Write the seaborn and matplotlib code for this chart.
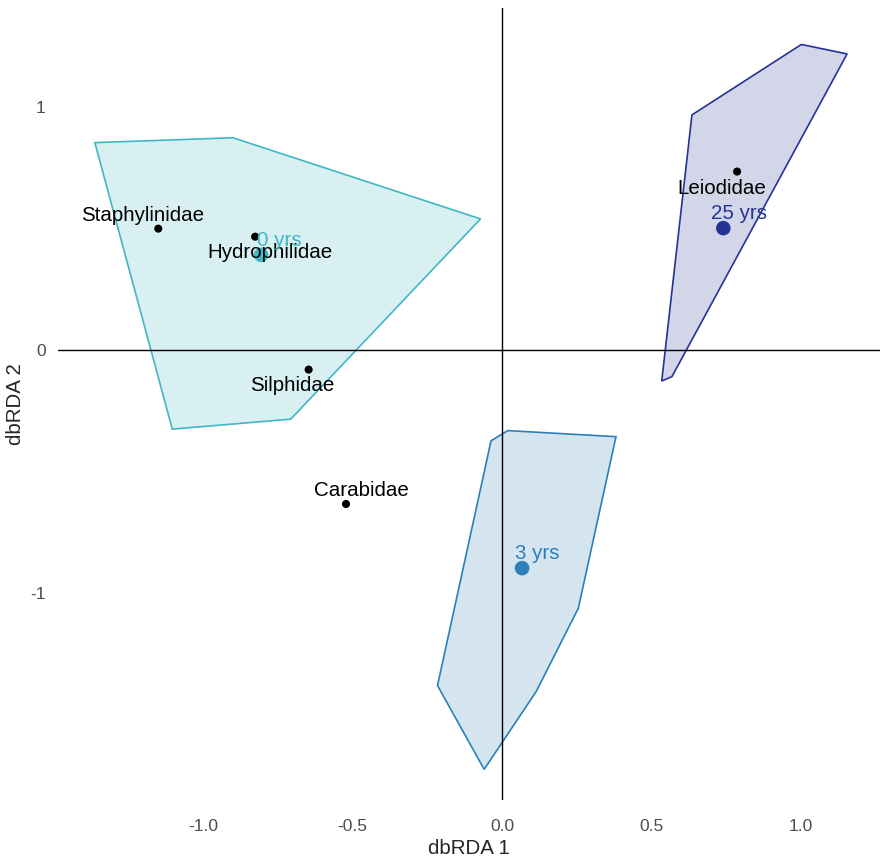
import numpy as np
import pandas as pd
import seaborn as sns
import matplotlib.pyplot as plt

# hull outlines per site age (dbRDA 1, dbRDA 2)
hull_0_x = [-1.362, -0.900, -0.072, -0.707, -1.103]
hull_0_y = [0.853, 0.873, 0.539, -0.285, -0.326]
hull_3_x = [-0.037, 0.019, 0.381, 0.255, 0.114, -0.060, -0.216]
hull_3_y = [-0.374, -0.332, -0.357, -1.063, -1.406, -1.726, -1.381]
hull_25_x = [0.635, 1.001, 1.154, 0.568, 0.534]
hull_25_y = [0.967, 1.257, 1.218, -0.110, -0.128]

groups = ["0 yrs", "3 yrs", "25 yrs"]
group_cols = ["#41b6c4", "#2c7fb8", "#253494"]
cent_x = [-0.806, 0.067, 0.740]
cent_y = [0.391, -0.898, 0.501]
cent_lab_x = [-0.746, 0.116, 0.793]
cent_lab_y = [0.452, -0.837, 0.562]

species = ["Staphylinidae", "Hydrophilidae", "Silphidae", "Carabidae", "Leiodidae"]
sp_x = [-1.150, -0.826, -0.647, -0.522, 0.786]
sp_y = [0.499, 0.466, -0.081, -0.634, 0.734]
sp_lab_x = [-1.201, -0.775, -0.702, -0.469, 0.735]
sp_lab_y = [0.555, 0.400, -0.146, -0.577, 0.666]

sns.set_style("white")
plt.rcParams["font.family"] = ["Liberation Sans", "DejaVu Sans"]

fig = plt.figure(figsize=(8.8, 8.59), dpi=100)
ax = fig.add_axes([0.066, 0.0687, 0.934, 0.922])

hulls = [(hull_0_x, hull_0_y), (hull_3_x, hull_3_y), (hull_25_x, hull_25_y)]
for (hx, hy), col in zip(hulls, group_cols):
    ax.fill(hx, hy, facecolor=col, alpha=0.2, edgecolor="none", zorder=1)
    ax.fill(hx, hy, facecolor="none", edgecolor=col, lw=1.2, zorder=2)

ax.axhline(0, color="black", lw=1, zorder=3)
ax.axvline(0, color="black", lw=1, zorder=3)

cent = pd.DataFrame({"x": cent_x, "y": cent_y, "group": groups})
sns.scatterplot(data=cent, x="x", y="y", hue="group", palette=group_cols,
                s=110, edgecolor="none", legend=False, ax=ax, zorder=4)

sp = pd.DataFrame({"x": sp_x, "y": sp_y, "species": species})
sns.scatterplot(data=sp, x="x", y="y", color="black", s=34,
                edgecolor="none", legend=False, ax=ax, zorder=5)

for lab, lx, ly in zip(species, sp_lab_x, sp_lab_y):
    ax.text(lx, ly, lab, fontsize=14.8, color="black", ha="center", va="center", zorder=6)
for lab, lx, ly, col in zip(groups, cent_lab_x, cent_lab_y, group_cols):
    ax.text(lx, ly, lab, fontsize=14.8, color=col, ha="center", va="center", zorder=6)

ax.set_xlim(-1.485, 1.264)
ax.set_ylim(-1.852, 1.407)
ax.set_xticks([-1.0, -0.5, 0.0, 0.5, 1.0])
ax.set_xticklabels(["-1.0", "-0.5", "0.0", "0.5", "1.0"])
ax.set_yticks([-1, 0, 1])
ax.set_yticklabels(["-1", "0", "1"])
ax.tick_params(axis="both", length=0, labelsize=12.5, labelcolor="#4d4d4d")
ax.tick_params(axis="x", pad=14)
ax.tick_params(axis="y", pad=9)
ax.set_xlabel("dbRDA 1", fontsize=14.8, labelpad=3)
ax.set_ylabel("dbRDA 2", fontsize=14.8, labelpad=4)
sns.despine(ax=ax, left=True, bottom=True)
ax.grid(False)

fig.savefig("out.png", dpi=100)
